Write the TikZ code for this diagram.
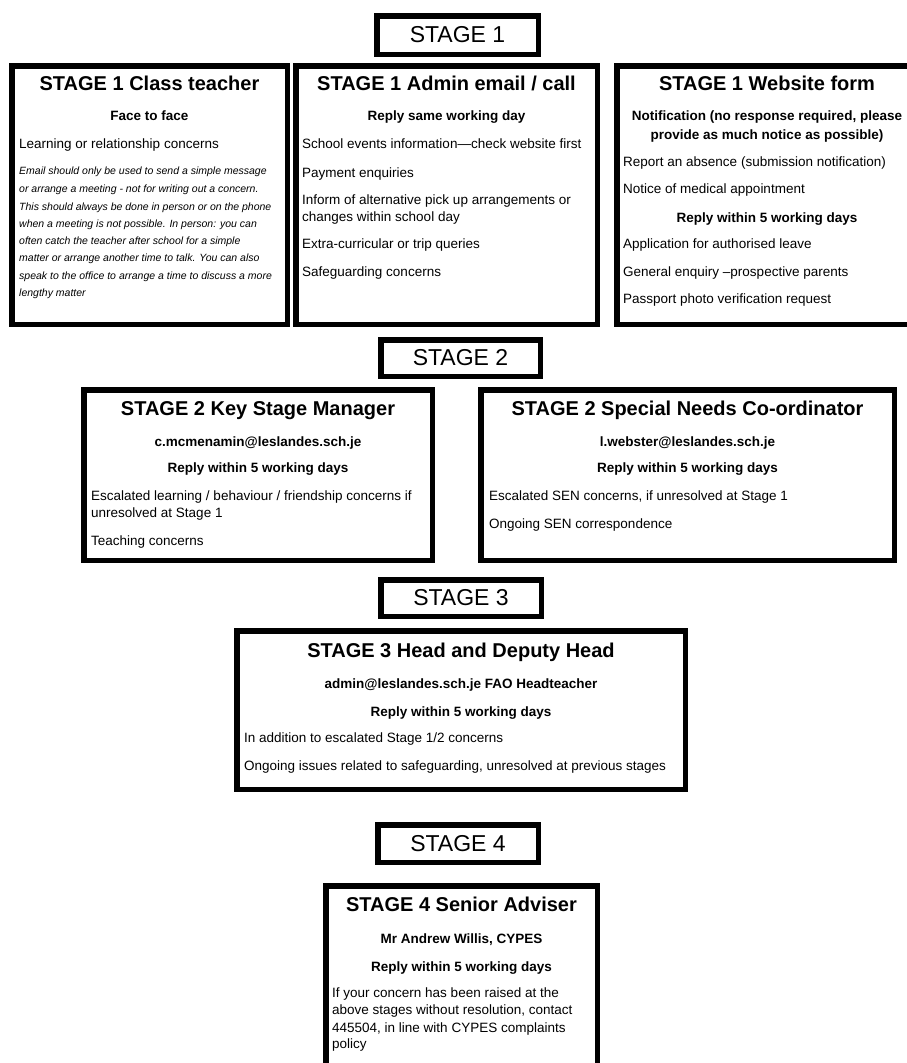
\documentclass[tikz,border=0pt]{standalone}
\usepackage{fontspec}
\setmainfont{Liberation Sans}
\begin{document}
\begin{tikzpicture}[x=1pt,y=-1pt,
  frame/.style={draw=black, line width=5.5pt, fill=white, inner sep=0pt, outer sep=0pt},
  lbl/.style={frame, font=\fontsize{23}{27}\selectfont},
  ttl/.style={anchor=base, inner sep=0pt, font=\bfseries\fontsize{20}{24}\selectfont},
  hd/.style={anchor=base, inner sep=0pt, font=\bfseries\fontsize{13.5}{16}\selectfont},
  txt/.style={anchor=base west, inner sep=0pt, font=\fontsize{13.5}{16}\selectfont},
  note/.style={anchor=base west, inner sep=0pt, font=\itshape\fontsize{10.5}{13}\selectfont}]
\useasboundingbox[fill=white] (0,0) rectangle (907,1063);

% ---- stage labels
\node[lbl, minimum width=161.5, minimum height=38.5] (s1) at (457.5,35) {STAGE 1};
\node[lbl, minimum width=159.5, minimum height=36.5] (s2) at (460.5,358) {STAGE 2};
\node[lbl, minimum width=160.5, minimum height=36.5] (s3) at (461,598) {STAGE 3};
\node[lbl, minimum width=160.5, minimum height=37.5] (s4) at (458,843.5) {STAGE 4};

% ---- stage 1 boxes
\node[frame, minimum width=275.5, minimum height=258.5] (b1) at (149.5,195) {};
\node[frame, minimum width=301.5, minimum height=258.5] (b2) at (446.5,195) {};
\node[frame, minimum width=300.5, minimum height=258.5] (b3) at (767,195) {};

\node[ttl] (b1t) at (149.5,90) {STAGE 1 Class teacher};
\node[hd] (b1h) at (149.5,120) {Face to face};
\node[txt] (b1a) at (19,148) {Learning or relationship concerns};
\node[note] (n1) at (19,174.5) {Email should only be used to send a simple message};
\node[note] (n2) at (19,192.5) {or arrange a meeting - not for writing out a concern.};
\node[note] (n3) at (19,210.5) {This should always be done in person or on the phone};
\node[note] (n4) at (19,227.5) {when a meeting is not possible. In person: you can};
\node[note] (n5) at (19,244.5) {often catch the teacher after school for a simple};
\node[note] (n6) at (19,261.5) {matter or arrange another time to talk. You can also};
\node[note] (n7) at (19,279.5) {speak to the office to arrange a time to discuss a more};
\node[note] (n8) at (19,296.5) {lengthy matter};

\node[ttl] (b2t) at (446.5,90) {STAGE 1 Admin email / call};
\node[hd] (b2h) at (446.5,120) {Reply same working day};
\node[txt] (b2a) at (302,148) {School events information—check website first};
\node[txt] (b2b) at (302,177) {Payment enquiries};
\node[txt] (b2c) at (302,204) {Inform of alternative pick up arrangements or};
\node[txt] (b2d) at (302,221) {changes within school day};
\node[txt] (b2e) at (302,248) {Extra-curricular or trip queries};
\node[txt] (b2f) at (302,276) {Safeguarding concerns};

\node[ttl] (b3t) at (767,90) {STAGE 1 Website form};
\node[hd] (b3h) at (767,120) {Notification (no response required, please};
\node[hd] (b3i) at (767,139) {provide as much notice as possible)};
\node[txt] (b3a) at (623,166) {Report an absence (submission notification)};
\node[txt] (b3b) at (623,193) {Notice of medical appointment};
\node[hd] (b3r) at (767,222) {Reply within 5 working days};
\node[txt] (b3c) at (623,248) {Application for authorised leave};
\node[txt] (b3d) at (623,276) {General enquiry –prospective parents};
\node[txt] (b3e) at (623,303) {Passport photo verification request};

% ---- stage 2 boxes
\node[frame, minimum width=348.5, minimum height=170.5] (ksm) at (258,475) {};
\node[frame, minimum width=413.5, minimum height=170.5] (sen) at (687.5,475) {};

\node[ttl] (ksmt) at (258,415) {STAGE 2 Key Stage Manager};
\node[hd] (ksme) at (258,446) {c.mcmenamin@leslandes.sch.je};
\node[hd] (ksmr) at (258,472) {Reply within 5 working days};
\node[txt] (ksma) at (91,500) {Escalated learning / behaviour / friendship concerns if};
\node[txt] (ksmb) at (91,517) {unresolved at Stage 1};
\node[txt] (ksmc) at (91,545) {Teaching concerns};

\node[ttl] (sent) at (687.5,415) {STAGE 2 Special Needs Co-ordinator};
\node[hd] (sene) at (687.5,446) {l.webster@leslandes.sch.je};
\node[hd] (senr) at (687.5,472) {Reply within 5 working days};
\node[txt] (sena) at (489,500) {Escalated SEN concerns, if unresolved at Stage 1};
\node[txt] (senb) at (489,528) {Ongoing SEN correspondence};

% ---- stage 3 box
\node[frame, minimum width=448.5, minimum height=158.5] (head) at (461,710) {};
\node[ttl] (headt) at (461,657) {STAGE 3 Head and Deputy Head};
\node[hd] (heade) at (461,688) {admin@leslandes.sch.je FAO Headteacher};
\node[hd] (headr) at (461,716) {Reply within 5 working days};
\node[txt] (heada) at (244,742) {In addition to escalated Stage 1/2 concerns};
\node[txt] (headb) at (244,770) {Ongoing issues related to safeguarding, unresolved at previous stages};

% ---- stage 4 box
\node[frame, minimum width=271.5, minimum height=196.5] (sa) at (461.5,984) {};
\node[ttl] (sat) at (461.5,911) {STAGE 4 Senior Adviser};
\node[hd] (sae) at (461.5,943) {Mr Andrew Willis, CYPES};
\node[hd] (sar) at (461.5,971) {Reply within 5 working days};
\node[txt] (saa) at (332,997) {If your concern has been raised at the};
\node[txt] (sab) at (332,1014) {above stages without resolution, contact};
\node[txt] (sac) at (332,1032) {445504, in line with CYPES complaints};
\node[txt] (sad) at (332,1048) {policy};
\end{tikzpicture}
\end{document}
